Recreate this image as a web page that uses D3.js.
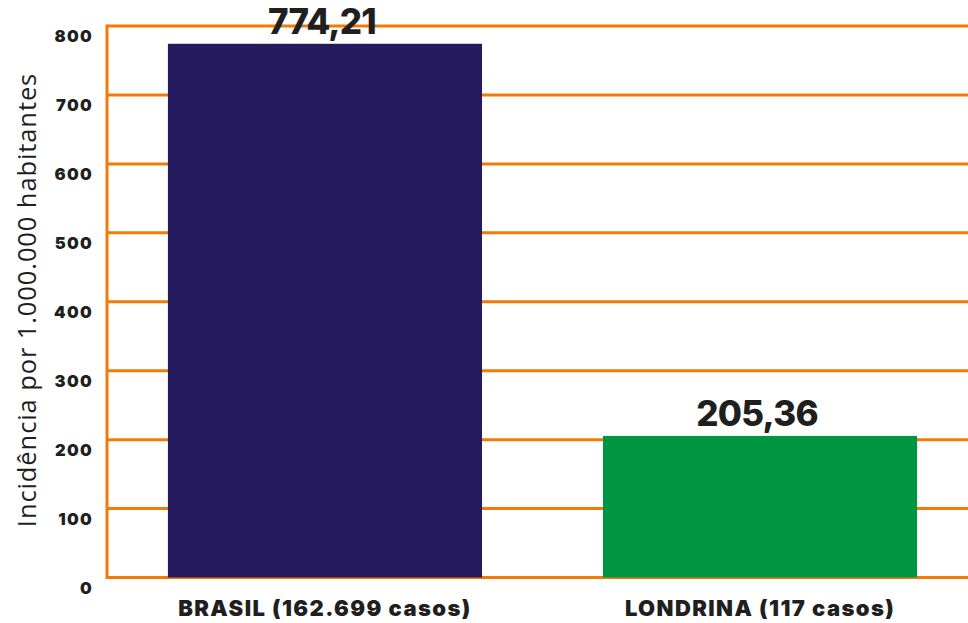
<!DOCTYPE html>
<html><head><meta charset="utf-8">
<script src="https://cdn.jsdelivr.net/npm/d3@7"></script>
<style>body{margin:0;background:#fff;}svg{display:block;}</style>
</head><body>
<svg id="c" width="968" height="623"></svg>
<script>
const categories = ["BRASIL (162.699 casos)", "LONDRINA (117 casos)"];
const values = [774.21, 205.36];
const valueLabels = ["774,21", "205,36"];
const barColors = ["#261A5E", "#009540"];
const yTicks = [0, 100, 200, 300, 400, 500, 600, 700, 800];
const yTitle = "Incidência por 1.000.000 habitantes";

const svg = d3.select("#c");
const orange = "#F27B07";
const textCol = "#1f1f1f";
const boldFont = "Inter, sans-serif";
const plotLeft = 107, plotTop = 26, plotBottom = 577.5;

const y = d3.scaleLinear().domain([0, 800]).range([plotBottom, plotTop]);
const x = d3.scaleBand().domain(categories).range([plotLeft, 978]).paddingInner(0.278).paddingOuter(0.14);

// gridlines
svg.append("g").selectAll("line").data(yTicks).join("line")
  .attr("x1", plotLeft).attr("x2", 968)
  .attr("y1", d => y(d)).attr("y2", d => y(d))
  .attr("stroke", orange).attr("stroke-width", 3);
// left axis line
svg.append("line").attr("x1", plotLeft).attr("x2", plotLeft)
  .attr("y1", y(800) - 1.5).attr("y2", y(0) + 1.5)
  .attr("stroke", orange).attr("stroke-width", 3);

// tick labels
svg.append("g").selectAll("text").data(yTicks).join("text")
  .attr("x", 93).attr("y", d => y(d) + 16)
  .attr("text-anchor", "end")
  .attr("font-family", boldFont).attr("font-weight", 900)
  .attr("font-size", 16.5).attr("letter-spacing", 1.3).attr("fill", textCol)
  .text(d => d);

// bars
svg.append("g").selectAll("rect").data(values).join("rect")
  .attr("x", (d, i) => x(categories[i]))
  .attr("width", x.bandwidth())
  .attr("y", d => y(d))
  .attr("height", d => y(0) - y(d))
  .attr("fill", (d, i) => barColors[i]);

// value labels
svg.append("g").selectAll("text").data(values).join("text")
  .attr("x", (d, i) => x(categories[i]) + x.bandwidth() / 2 - 3)
  .attr("y", d => y(d) - 10)
  .attr("text-anchor", "middle")
  .attr("font-family", boldFont).attr("font-weight", 800)
  .attr("font-size", 35).attr("letter-spacing", -0.8).attr("fill", textCol)
  .text((d, i) => valueLabels[i]);

// category labels
svg.append("g").selectAll("text").data(categories).join("text")
  .attr("x", d => x(d) + x.bandwidth() / 2)
  .attr("y", 616)
  .attr("text-anchor", "middle")
  .attr("font-family", boldFont).attr("font-weight", 900)
  .attr("font-size", 22).attr("letter-spacing", 1.4).attr("fill", textCol)
  .text(d => d);

// y title
svg.append("text")
  .attr("transform", `translate(36, ${(73 + 527) / 2}) rotate(-90)`)
  .attr("text-anchor", "middle")
  .attr("font-family", "'Open Sans', sans-serif").attr("font-weight", 400)
  .attr("font-size", 25.5).attr("letter-spacing", 0.9).attr("fill", textCol)
  .text(yTitle);
</script>
</body></html>
